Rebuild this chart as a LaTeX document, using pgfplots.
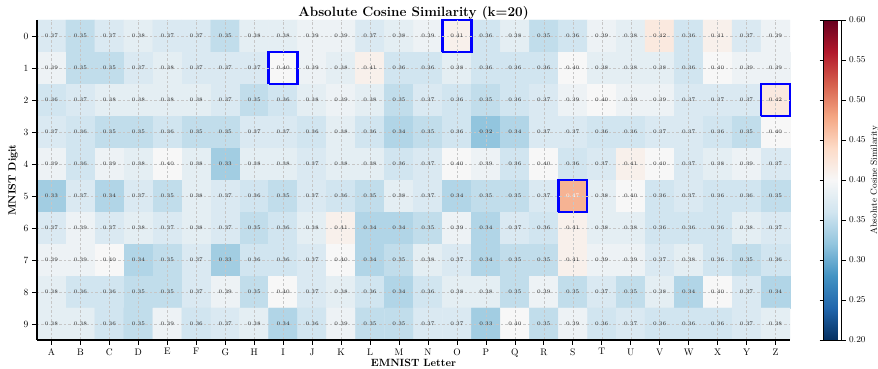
\documentclass[border=0pt]{standalone}
\usepackage{pgfplots}
\usepackage{pgfplotstable}
\pgfplotsset{compat=1.18}

% diverging blue-white-red map (RdBu reversed)
\pgfplotsset{colormap={rdbur}{rgb255=(5,48,97) rgb255=(33,102,172) rgb255=(67,147,195)
  rgb255=(146,197,222) rgb255=(209,229,240) rgb255=(247,247,247) rgb255=(253,219,199)
  rgb255=(244,165,130) rgb255=(214,96,77) rgb255=(178,24,43) rgb255=(103,0,31)}}

% similarity values: x = letter (A=0 .. Z=25), y = 9 - digit, v = value
\pgfplotstableread[row sep=\\]{x y v\\
0 9 0.37\\ 1 9 0.35\\ 2 9 0.37\\ 3 9 0.38\\ 4 9 0.37\\ 5 9 0.37\\ 6 9 0.35\\ 7 9 0.38\\ 8 9 0.38\\ 9 9 0.39\\ 10 9 0.39\\ 11 9 0.37\\ 12 9 0.38\\ 13 9 0.39\\ 14 9 0.41\\ 15 9 0.36\\ 16 9 0.38\\ 17 9 0.35\\ 18 9 0.36\\ 19 9 0.39\\ 20 9 0.38\\ 21 9 0.42\\ 22 9 0.36\\ 23 9 0.41\\ 24 9 0.37\\ 25 9 0.39\\
0 8 0.39\\ 1 8 0.35\\ 2 8 0.35\\ 3 8 0.37\\ 4 8 0.38\\ 5 8 0.37\\ 6 8 0.37\\ 7 8 0.37\\ 8 8 0.40\\ 9 8 0.39\\ 10 8 0.38\\ 11 8 0.41\\ 12 8 0.36\\ 13 8 0.36\\ 14 8 0.38\\ 15 8 0.36\\ 16 8 0.36\\ 17 8 0.36\\ 18 8 0.40\\ 19 8 0.38\\ 20 8 0.38\\ 21 8 0.38\\ 22 8 0.36\\ 23 8 0.40\\ 24 8 0.39\\ 25 8 0.39\\
0 7 0.36\\ 1 7 0.37\\ 2 7 0.38\\ 3 7 0.38\\ 4 7 0.38\\ 5 7 0.38\\ 6 7 0.37\\ 7 7 0.35\\ 8 7 0.36\\ 9 7 0.38\\ 10 7 0.39\\ 11 7 0.38\\ 12 7 0.35\\ 13 7 0.37\\ 14 7 0.36\\ 15 7 0.35\\ 16 7 0.36\\ 17 7 0.37\\ 18 7 0.39\\ 19 7 0.40\\ 20 7 0.39\\ 21 7 0.39\\ 22 7 0.37\\ 23 7 0.37\\ 24 7 0.37\\ 25 7 0.42\\
0 6 0.37\\ 1 6 0.36\\ 2 6 0.35\\ 3 6 0.35\\ 4 6 0.36\\ 5 6 0.35\\ 6 6 0.35\\ 7 6 0.37\\ 8 6 0.37\\ 9 6 0.36\\ 10 6 0.38\\ 11 6 0.36\\ 12 6 0.34\\ 13 6 0.35\\ 14 6 0.36\\ 15 6 0.32\\ 16 6 0.34\\ 17 6 0.37\\ 18 6 0.37\\ 19 6 0.36\\ 20 6 0.36\\ 21 6 0.37\\ 22 6 0.37\\ 23 6 0.36\\ 24 6 0.35\\ 25 6 0.40\\
0 5 0.39\\ 1 5 0.36\\ 2 5 0.39\\ 3 5 0.38\\ 4 5 0.40\\ 5 5 0.38\\ 6 5 0.33\\ 7 5 0.38\\ 8 5 0.38\\ 9 5 0.37\\ 10 5 0.38\\ 11 5 0.38\\ 12 5 0.36\\ 13 5 0.37\\ 14 5 0.40\\ 15 5 0.39\\ 16 5 0.36\\ 17 5 0.40\\ 18 5 0.36\\ 19 5 0.37\\ 20 5 0.41\\ 21 5 0.40\\ 22 5 0.37\\ 23 5 0.38\\ 24 5 0.39\\ 25 5 0.37\\
0 4 0.33\\ 1 4 0.37\\ 2 4 0.34\\ 3 4 0.37\\ 4 4 0.35\\ 5 4 0.38\\ 6 4 0.37\\ 7 4 0.36\\ 8 4 0.35\\ 9 4 0.37\\ 10 4 0.36\\ 11 4 0.35\\ 12 4 0.38\\ 13 4 0.37\\ 14 4 0.34\\ 15 4 0.35\\ 16 4 0.35\\ 17 4 0.37\\ 18 4 0.47\\ 19 4 0.38\\ 20 4 0.40\\ 21 4 0.36\\ 22 4 0.37\\ 23 4 0.36\\ 24 4 0.36\\ 25 4 0.35\\
0 3 0.37\\ 1 3 0.39\\ 2 3 0.37\\ 3 3 0.38\\ 4 3 0.37\\ 5 3 0.38\\ 6 3 0.37\\ 7 3 0.35\\ 8 3 0.36\\ 9 3 0.38\\ 10 3 0.41\\ 11 3 0.34\\ 12 3 0.34\\ 13 3 0.35\\ 14 3 0.39\\ 15 3 0.34\\ 16 3 0.37\\ 17 3 0.36\\ 18 3 0.41\\ 19 3 0.38\\ 20 3 0.38\\ 21 3 0.36\\ 22 3 0.36\\ 23 3 0.36\\ 24 3 0.38\\ 25 3 0.37\\
0 2 0.39\\ 1 2 0.39\\ 2 2 0.40\\ 3 2 0.34\\ 4 2 0.35\\ 5 2 0.37\\ 6 2 0.33\\ 7 2 0.36\\ 8 2 0.36\\ 9 2 0.37\\ 10 2 0.40\\ 11 2 0.34\\ 12 2 0.35\\ 13 2 0.38\\ 14 2 0.37\\ 15 2 0.34\\ 16 2 0.35\\ 17 2 0.35\\ 18 2 0.41\\ 19 2 0.39\\ 20 2 0.39\\ 21 2 0.37\\ 22 2 0.38\\ 23 2 0.36\\ 24 2 0.35\\ 25 2 0.36\\
0 1 0.38\\ 1 1 0.36\\ 2 1 0.36\\ 3 1 0.35\\ 4 1 0.35\\ 5 1 0.37\\ 6 1 0.39\\ 7 1 0.35\\ 8 1 0.40\\ 9 1 0.37\\ 10 1 0.38\\ 11 1 0.36\\ 12 1 0.34\\ 13 1 0.36\\ 14 1 0.38\\ 15 1 0.38\\ 16 1 0.35\\ 17 1 0.39\\ 18 1 0.35\\ 19 1 0.37\\ 20 1 0.35\\ 21 1 0.38\\ 22 1 0.34\\ 23 1 0.40\\ 24 1 0.37\\ 25 1 0.34\\
0 0 0.38\\ 1 0 0.38\\ 2 0 0.36\\ 3 0 0.35\\ 4 0 0.39\\ 5 0 0.36\\ 6 0 0.37\\ 7 0 0.38\\ 8 0 0.34\\ 9 0 0.36\\ 10 0 0.39\\ 11 0 0.35\\ 12 0 0.35\\ 13 0 0.37\\ 14 0 0.37\\ 15 0 0.33\\ 16 0 0.40\\ 17 0 0.35\\ 18 0 0.39\\ 19 0 0.36\\ 20 0 0.37\\ 21 0 0.36\\ 22 0 0.36\\ 23 0 0.36\\ 24 0 0.37\\ 25 0 0.38\\
}\simtable

\pgfplotsset{
  cell label/.style={draw=none, mark=none, point meta=explicit,
    unbounded coords=discard,
    nodes near coords={\pgfmathprintnumber[fixed,fixed zerofill,precision=2]{\pgfplotspointmeta}},
    nodes near coords align=center,
    every node near coord/.append style={font=\fontsize{5.4}{6}\selectfont, inner sep=0pt}},
  highlight/.style={blue, line width=2.4pt, line join=miter, mark=none},
}

\begin{document}
\begin{tikzpicture}
\begin{axis}[
  name=main,
  scale only axis,
  width=753pt, height=320pt,
  xmin=-0.5, xmax=25.5, ymin=-0.5, ymax=9.5,
  clip=false,
  axis x line*=bottom, axis y line*=left,
  axis line style={black, line width=1.1pt},
  xtick={0,...,25},
  xticklabels={A,B,C,D,E,F,G,H,I,J,K,L,M,N,O,P,Q,R,S,T,U,V,W,X,Y,Z},
  ytick={0,...,9},
  yticklabels={9,8,7,6,5,4,3,2,1,0},
  tick align=outside,
  major tick length=5pt,
  tick style={black, line width=0.7pt},
  ticklabel style={font=\fontsize{9.5}{10}\selectfont},
  /pgf/number format/assume math mode=true,
  grid=major,
  major grid style={gray!45, line width=0.4pt, dash pattern=on 2.5pt off 2pt},
  axis on top,
  title={Absolute Cosine Similarity (k=20)},
  title style={font=\bfseries\fontsize{13.5}{14}\selectfont, yshift=-9pt},
  xlabel={EMNIST Letter},
  ylabel={MNIST Digit},
  label style={font=\bfseries\fontsize{10.5}{12}\selectfont},
  xlabel style={yshift=5pt},
  ylabel style={yshift=-1pt},
  colormap name=rdbur,
  point meta min=0.2, point meta max=0.6,
  colorbar,
  colorbar style={
    at={(parent axis.north east)}, anchor=north west, xshift=25pt,
    scale only axis, width=18pt, height=320pt,
    ytick={0.2,0.25,...,0.6},
    yticklabel style={font=\fontsize{9}{10}\selectfont,
      /pgf/number format/.cd, fixed, fixed zerofill, precision=2},
    /pgf/number format/assume math mode=true,
    tick align=outside, major tick length=4pt,
    tick style={black, line width=0.6pt},
    axis line style={black, line width=0.5pt},
    ylabel={Absolute Cosine Similarity},
    ylabel style={font=\fontsize{9}{10}\selectfont, yshift=2pt},
  },
]
% heatmap cells
\addplot[matrix plot*, mesh/cols=26, point meta=explicit]
  table[x=x, y=y, meta=v] {\simtable};

% value annotations: dark text on light cells, white text on strong cells
\addplot[cell label, every node near coord/.append style={text=black!85}]
  table[x=x, y expr={\thisrow{v}>0.45 ? nan : \thisrow{y}}, meta=v] {\simtable};
\addplot[cell label, every node near coord/.append style={text=white}]
  table[x=x, y expr={\thisrow{v}>0.45 ? \thisrow{y} : nan}, meta=v] {\simtable};

% highlighted cells
\addplot[highlight] coordinates {(13.5,8.5) (14.5,8.5) (14.5,9.5) (13.5,9.5) (13.5,8.5)};
\addplot[highlight] coordinates {(7.5,7.5) (8.5,7.5) (8.5,8.5) (7.5,8.5) (7.5,7.5)};
\addplot[highlight] coordinates {(24.5,6.5) (25.5,6.5) (25.5,7.5) (24.5,7.5) (24.5,6.5)};
\addplot[highlight] coordinates {(17.5,3.5) (18.5,3.5) (18.5,4.5) (17.5,4.5) (17.5,3.5)};
\end{axis}
\pgfresetboundingbox
\path[use as bounding box] ([shift={(-37pt,-29pt)}]main.south west) rectangle ([shift={(841pt,340pt)}]main.south west);
\end{tikzpicture}
\end{document}
